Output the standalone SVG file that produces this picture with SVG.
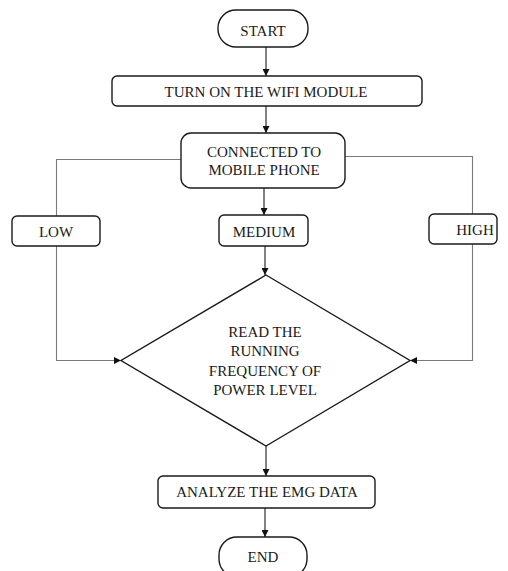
<svg xmlns="http://www.w3.org/2000/svg" width="508" height="571" viewBox="0 0 508 571">
  <style>
    .box { fill: #ffffff; stroke: #1a1a1a; stroke-width: 1.4; }
    .lbl { font-size: 15px; fill: #1a1a1a; text-anchor: middle; }
    .flow { fill: none; stroke: #1a1a1a; stroke-width: 1.1; }
    .side { fill: none; stroke: #7a7a7a; stroke-width: 1.1; }
  </style>
  <defs>
    <marker id="arrow" viewBox="0 0 10 10" refX="10" refY="5" markerWidth="7" markerHeight="7" markerUnits="userSpaceOnUse" orient="auto">
      <path d="M0,0 L10,5 L0,10 z" fill="#111111"/>
    </marker>
  </defs>
  <rect width="508" height="571" fill="#ffffff"/>

  <!-- connectors -->
  <g id="connectors">
    <line class="flow" x1="266" y1="47" x2="266" y2="76" marker-end="url(#arrow)"/>
    <line class="flow" x1="266" y1="106" x2="266" y2="133" marker-end="url(#arrow)"/>
    <line class="flow" x1="264" y1="188" x2="264" y2="215" marker-end="url(#arrow)"/>
    <line class="flow" x1="265" y1="246" x2="265" y2="275" marker-end="url(#arrow)"/>
    <polyline class="side" points="181,159.5 56.5,159.5 56.5,216"/>
    <polyline class="side" points="345,156.5 472.5,156.5 472.5,214"/>
    <polyline class="side" points="56.5,246 56.5,360.5 121,360.5" marker-end="url(#arrow)"/>
    <polyline class="side" points="472.5,244 472.5,360.5 410,360.5" marker-end="url(#arrow)"/>
    <line class="flow" x1="266" y1="446" x2="266" y2="476" marker-end="url(#arrow)"/>
    <line class="flow" x1="265" y1="508" x2="265" y2="537" marker-end="url(#arrow)"/>
  </g>

  <g font-family="Liberation Serif, Times New Roman, serif">
  <g id="start">
    <rect class="box" x="218" y="10" width="90" height="37" rx="18" ry="18"/>
    <text class="lbl" x="263" y="36">START</text>
  </g>

  <g id="wifi">
    <rect class="box" x="112" y="76" width="310" height="30" rx="5" ry="5"/>
    <text class="lbl" x="266" y="97">TURN ON THE WIFI MODULE</text>
  </g>

  <g id="connected">
    <rect class="box" x="181" y="133" width="164" height="55" rx="10" ry="10"/>
    <text class="lbl" x="264" y="157">CONNECTED TO</text>
    <text class="lbl" x="264" y="175">MOBILE PHONE</text>
  </g>

  <g id="low">
    <rect class="box" x="12" y="216" width="88" height="30" rx="5" ry="5"/>
    <text class="lbl" x="56" y="237">LOW</text>
  </g>

  <g id="medium">
    <rect class="box" x="219" y="215" width="89" height="31" rx="5" ry="5"/>
    <text class="lbl" x="264" y="237">MEDIUM</text>
  </g>

  <g id="high">
    <rect class="box" x="429" y="214" width="68" height="30" rx="5" ry="5"/>
    <text class="lbl" x="475" y="235">HIGH</text>
  </g>

  <g id="read">
    <polygon class="box" points="266,275 410,360.5 266,446 121,360.5"/>
    <text class="lbl" x="265" y="337">READ THE</text>
    <text class="lbl" x="265" y="356">RUNNING</text>
    <text class="lbl" x="265" y="376">FREQUENCY OF</text>
    <text class="lbl" x="265" y="395">POWER LEVEL</text>
  </g>

  <g id="analyze">
    <rect class="box" x="158" y="476" width="217" height="32" rx="5" ry="5"/>
    <text class="lbl" x="267" y="497">ANALYZE THE EMG DATA</text>
  </g>

  <g id="end">
    <rect class="box" x="219" y="537" width="88" height="40" rx="18" ry="18"/>
    <text class="lbl" x="263" y="562">END</text>
  </g>
  </g>
</svg>
